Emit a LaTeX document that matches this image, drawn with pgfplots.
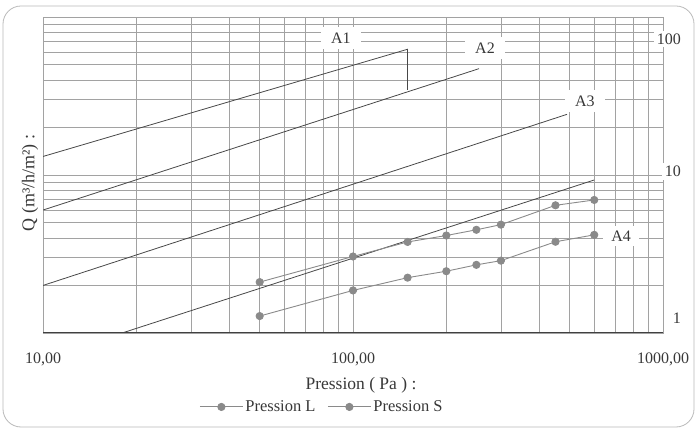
\documentclass[border=0pt]{standalone}
\usepackage{pgfplots}
\pgfplotsset{compat=1.18}
\usepackage{fontspec}
\setmainfont{Liberation Serif}
\definecolor{gridc}{HTML}{A2A2A2}
\definecolor{linec}{HTML}{484848}
\definecolor{serc}{HTML}{8A8A8A}
\definecolor{txtc}{HTML}{383838}
\begin{document}
\begin{tikzpicture}[font=\fontsize{16bp}{19bp}\selectfont]
\useasboundingbox (0,0) rectangle (699bp,429bp);
\begin{axis}[
  at={(43bp,96bp)}, anchor=south west,
  scale only axis, width=620bp, height=316bp,
  xmode=log, ymode=log,
  xmin=10, xmax=1000, ymin=1, ymax=100,
  xtick={10,100,1000}, xticklabels={{10,00},{100,00},{1000,00}},
  minor xtick={20,30,40,50,60,70,80,90,200,300,400,500,600,700,800,900},
  ytick={1,10,100}, yticklabels={,,},
  minor ytick={2,3,4,5,6,7,8,9,20,30,40,50,60,70,80,90},
  extra y ticks={1.245,10.5,72.6}, extra y tick labels={1,10,100},
  extra y tick style={grid=none, major tick length=0pt,
     yticklabel style={anchor=east, xshift=21bp, fill=white, inner sep=3bp}},
  yticklabel pos=right,
  xticklabel style={yshift=-16bp, text=txtc},
  yticklabel style={text=txtc},
  grid=both,
  major grid style={gridc, line width=0.7bp},
  minor grid style={gridc, line width=0.7bp},
  major tick length=0pt, minor tick length=0pt,
  axis line style={gridc, line width=0.7bp},
  legend style={draw=none, fill=none, at={(0.45,-0.234)}, anchor=center,
     legend columns=2, /tikz/every even column/.append style={column sep=10bp},
     text=txtc, font=\fontsize{16.5bp}{19bp}\selectfont},
  legend image code/.code={\draw[mark repeat=2,mark phase=2,#1] plot coordinates {(0bp,0bp) (21.5bp,0bp) (43bp,0bp)};},
]
\node[fill=white, inner xsep=10bp, inner ysep=6bp, text=txtc] at (axis cs:91.4,73.6) {A1};
\node[fill=white, inner xsep=10bp, inner ysep=6bp, text=txtc] at (axis cs:266.6,63.6) {A2};
\node[fill=white, inner xsep=10bp, inner ysep=6bp, text=txtc] at (axis cs:560,29.4) {A3};
\node[fill=white, inner xsep=8bp, inner ysep=5bp, text=txtc] at (axis cs:733,4.11) {A4};
\addplot[linec, line width=0.8bp, forget plot] coordinates {(10,13.1) (150,62.5) (150,34.6)};
\addplot[linec, line width=0.8bp, forget plot] coordinates {(10,6.0) (255,47.1)};
\addplot[linec, line width=0.8bp, forget plot] coordinates {(10,2.0) (490,24.2)};
\addplot[linec, line width=0.8bp, forget plot] coordinates {(18,1) (600,9.3)};
\addplot[serc, line width=0.9bp, mark=*, mark size=3.6bp, mark options={fill=serc, draw=serc}]
  coordinates {(50,1.28) (100,1.86) (150,2.24) (200,2.46) (250,2.70) (300,2.87) (450,3.78) (600,4.18)};
\addlegendentry{Pression L}
\addplot[serc, line width=0.9bp, mark=*, mark size=3.6bp, mark options={fill=serc, draw=serc}]
  coordinates {(50,2.10) (100,3.05) (150,3.77) (200,4.14) (250,4.50) (300,4.85) (450,6.43) (600,6.95)};
\addlegendentry{Pression S}
\draw[black!75, line width=1.3bp] (rel axis cs:0,0) -- (rel axis cs:1,0);
\end{axis}
\node[rotate=90, anchor=center, text=txtc, font=\fontsize{18bp}{20bp}\selectfont, inner sep=0pt] at (30bp,246bp) {Q (m³/h/m²) :};
\node[anchor=center, text=txtc, font=\fontsize{17.5bp}{20bp}\selectfont, inner sep=0pt] at (361bp,44bp) {Pression ( Pa ) :};
\draw[gray!55, line width=0.8bp, rounded corners=18bp] (3bp,2bp) rectangle (694bp,423bp);
\end{tikzpicture}
\end{document}
